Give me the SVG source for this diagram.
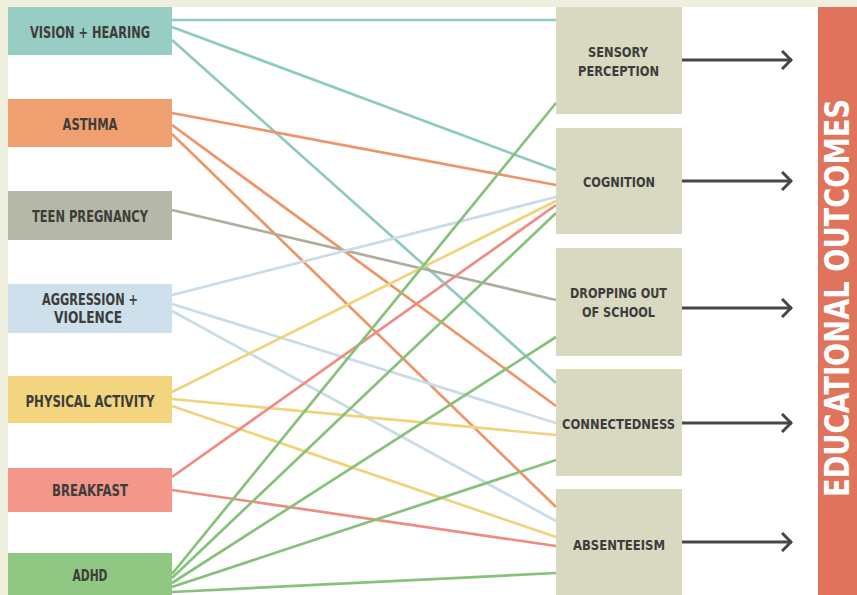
<svg xmlns="http://www.w3.org/2000/svg" width="857" height="595" viewBox="0 0 857 595">
<style>
.lbl{font-family:"DejaVu Sans Condensed","Liberation Sans",sans-serif;font-weight:bold;fill:#3d3d3b;text-anchor:middle}
.l15{font-size:15px}
.l14{font-size:14px}
.out{fill:#d9d8c1}
.c{fill:none;stroke-width:2.7;stroke-linecap:butt}
.teal{stroke:#8ecac0}
.orange{stroke:#ee9468}
.gray{stroke:#aeae9f}
.blue{stroke:#c9dce9}
.yellow{stroke:#f0d37c}
.red{stroke:#ee8c80}
.green{stroke:#86c27a}
.arr{fill:none;stroke:#464646;stroke-width:3;marker-end:url(#chev)}
</style>
<defs>
<marker id="chev" viewBox="0 0 12 20" refX="11" refY="10" markerWidth="12" markerHeight="20" markerUnits="userSpaceOnUse" orient="auto">
<polyline points="1,1 10,10 1,19" fill="none" stroke="#464646" stroke-width="3"/>
</marker>
</defs>
<rect x="0" y="0" width="857" height="595" fill="#eef0dd"/>
<rect x="8" y="7" width="849" height="588" fill="#ffffff"/>

<g id="connectors">
<line class="c teal" x1="172" y1="20" x2="556" y2="20"/>
<line class="c teal" x1="172" y1="27" x2="556" y2="170"/>
<line class="c teal" x1="172" y1="40" x2="556" y2="383"/>
<line class="c orange" x1="172" y1="113" x2="556" y2="185"/>
<line class="c orange" x1="172" y1="125" x2="556" y2="406"/>
<line class="c orange" x1="172" y1="134" x2="556" y2="507"/>
<line class="c gray" x1="172" y1="210" x2="556" y2="300"/>
<line class="c blue" x1="172" y1="295" x2="556" y2="197"/>
<line class="c blue" x1="172" y1="304" x2="556" y2="423"/>
<line class="c blue" x1="172" y1="311" x2="556" y2="521"/>
<line class="c yellow" x1="172" y1="392" x2="556" y2="201"/>
<line class="c yellow" x1="172" y1="399" x2="556" y2="435"/>
<line class="c yellow" x1="172" y1="406" x2="556" y2="537"/>
<line class="c red" x1="172" y1="477" x2="556" y2="205"/>
<line class="c red" x1="172" y1="490" x2="556" y2="546"/>
<line class="c green" x1="172" y1="574" x2="556" y2="103"/>
<line class="c green" x1="172" y1="578" x2="556" y2="213"/>
<line class="c green" x1="172" y1="583" x2="556" y2="337"/>
<line class="c green" x1="172" y1="587" x2="556" y2="460"/>
<line class="c green" x1="172" y1="592" x2="556" y2="573"/>
<line class="arr" x1="682" y1="60" x2="792" y2="60"/>
<line class="arr" x1="682" y1="181" x2="792" y2="181"/>
<line class="arr" x1="682" y1="308" x2="792" y2="308"/>
<line class="arr" x1="682" y1="423" x2="792" y2="423"/>
<line class="arr" x1="682" y1="542" x2="792" y2="542"/>
</g>

<g id="vision-hearing"><rect x="8" y="7" width="164" height="48" fill="#98cdc3"/><text class="lbl l15" x="90" y="37.5" textLength="120" lengthAdjust="spacingAndGlyphs">VISION + HEARING</text></g>
<g id="asthma"><rect x="8" y="99" width="164" height="48" fill="#f0a070"/><text class="lbl l15" x="90" y="130" textLength="55" lengthAdjust="spacingAndGlyphs">ASTHMA</text></g>
<g id="teen-pregnancy"><rect x="8" y="191" width="164" height="49" fill="#b6b8a7"/><text class="lbl l15" x="90" y="221.5" textLength="116" lengthAdjust="spacingAndGlyphs">TEEN PREGNANCY</text></g>
<g id="aggression-violence"><rect x="8" y="284" width="164" height="49" fill="#cee0ec"/><text class="lbl l15" x="90" y="305" textLength="96" lengthAdjust="spacingAndGlyphs">AGGRESSION +</text><text class="lbl l15" x="88" y="322.5" textLength="68" lengthAdjust="spacingAndGlyphs">VIOLENCE</text></g>
<g id="physical-activity"><rect x="8" y="376" width="164" height="47" fill="#f3d57f"/><text class="lbl l15" x="90" y="406.5" textLength="129" lengthAdjust="spacingAndGlyphs">PHYSICAL ACTIVITY</text></g>
<g id="breakfast"><rect x="8" y="468" width="164" height="44" fill="#f3978b"/><text class="lbl l15" x="90" y="496" textLength="76" lengthAdjust="spacingAndGlyphs">BREAKFAST</text></g>
<g id="adhd"><rect x="8" y="553" width="164" height="42" fill="#90c883"/><text class="lbl l15" x="90" y="581" textLength="35" lengthAdjust="spacingAndGlyphs">ADHD</text></g>

<g id="sensory-perception"><rect class="out" x="556" y="7" width="126" height="107"/><text class="lbl l14" x="618" y="57" textLength="60" lengthAdjust="spacingAndGlyphs">SENSORY</text><text class="lbl l14" x="618.5" y="76" textLength="81" lengthAdjust="spacingAndGlyphs">PERCEPTION</text></g>
<g id="cognition"><rect class="out" x="556" y="128" width="126" height="106"/><text class="lbl l14" x="619" y="187" textLength="72" lengthAdjust="spacingAndGlyphs">COGNITION</text></g>
<g id="dropping-out"><rect class="out" x="556" y="248" width="126" height="108"/><text class="lbl l14" x="618.5" y="298" textLength="97" lengthAdjust="spacingAndGlyphs">DROPPING OUT</text><text class="lbl l14" x="618.5" y="317" textLength="73" lengthAdjust="spacingAndGlyphs">OF SCHOOL</text></g>
<g id="connectedness"><rect class="out" x="556" y="369" width="126" height="107"/><text class="lbl l14" x="618.5" y="429" textLength="113" lengthAdjust="spacingAndGlyphs">CONNECTEDNESS</text></g>
<g id="absenteeism"><rect class="out" x="556" y="489" width="126" height="106"/><text class="lbl l14" x="619" y="550" textLength="92" lengthAdjust="spacingAndGlyphs">ABSENTEEISM</text></g>

<g id="educational-outcomes"><rect x="818" y="7" width="39" height="588" fill="#e0735b"/><text transform="translate(849,298) rotate(-90)" x="0" y="0" font-family="DejaVu Sans Condensed, Liberation Sans, sans-serif" font-weight="bold" font-size="33" fill="#ffffff" text-anchor="middle" textLength="398" lengthAdjust="spacingAndGlyphs">EDUCATIONAL OUTCOMES</text></g>
</svg>
